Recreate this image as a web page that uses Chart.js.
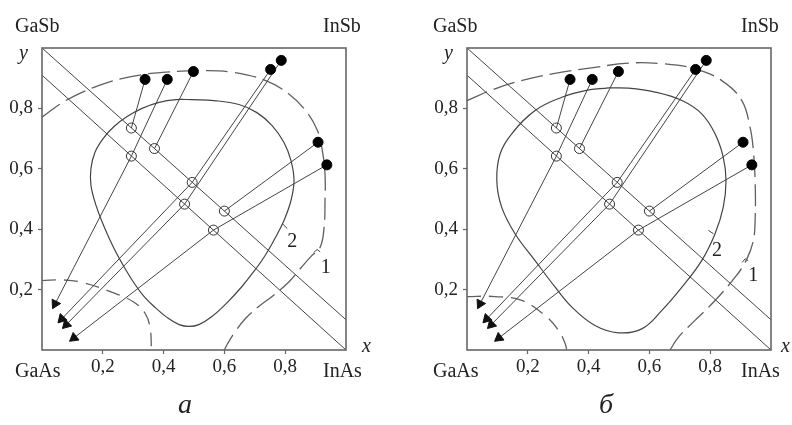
<!DOCTYPE html>
<html>
<head>
<meta charset="utf-8">
<script src="https://cdn.jsdelivr.net/npm/chart.js@4.4.1/dist/chart.umd.min.js"></script>
<style>
  body { margin: 0; background: #fff; }
  #wrap { position: relative; width: 792px; height: 425px; overflow: hidden;
          font-family: 'Liberation Serif', 'Times New Roman', serif; color: #222; }
  .panel { position: absolute; top: 0; width: 396px; height: 425px; }
  .lbl { position: absolute; font-size: 20px; line-height: 20px; white-space: nowrap; }
  .it { font-style: italic; }
  .cap { font-size: 28px; line-height: 28px; font-style: italic; }
</style>
</head>
<body>
<div id="wrap">
  <div class="panel" style="left:0"><canvas id="chartA"></canvas></div>
  <div class="panel" style="left:396px"><canvas id="chartB"></canvas></div>

  <span class="lbl" style="left:15px;top:15px">GaSb</span>
  <span class="lbl" style="left:323px;top:15px">InSb</span>
  <span class="lbl" style="left:15px;top:360px">GaAs</span>
  <span class="lbl" style="left:323px;top:360px">InAs</span>
  <span class="lbl it" style="left:19px;top:42px">y</span>
  <span class="lbl it" style="left:362px;top:335px">x</span>
  <span class="lbl cap" style="left:178px;top:390px">а</span>

  <span class="lbl" style="left:433px;top:15px">GaSb</span>
  <span class="lbl" style="left:741px;top:15px">InSb</span>
  <span class="lbl" style="left:433px;top:360px">GaAs</span>
  <span class="lbl" style="left:741px;top:360px">InAs</span>
  <span class="lbl it" style="left:444px;top:42px">y</span>
  <span class="lbl it" style="left:781px;top:335px">x</span>
  <span class="lbl cap" style="left:599px;top:390px">б</span>
</div>
<script>
// axis ticks
const tickValues = [0.2, 0.4, 0.6, 0.8];
const tickLabels = ['0,2', '0,4', '0,6', '0,8'];

// the two tie lines
const diagUpper = [[0, 1], [1, 0.1]];
const diagLower = [[0, 0.91], [1, 0]];

// trajectories: filled dot -> open circle (-> arrow tip)
const dotPts = [[0.339, 0.896], [0.412, 0.896], [0.498, 0.922], [0.752, 0.929],
                [0.787, 0.959], [0.908, 0.688], [0.937, 0.613]];
const circlePts = [[0.294, 0.735], [0.294, 0.642], [0.370, 0.667], [0.494, 0.555],
                   [0.469, 0.483], [0.600, 0.460], [0.564, 0.397]];
const arrowTips = [[0.043, 0.153], [0.065, 0.103], [0.080, 0.084], [0.105, 0.040]];
const arrowFrom = [1, 3, 4, 6];

// panel a
const curve2A = [[0.493, 0.829], [0.566, 0.826], [0.648, 0.813], [0.707, 0.786], [0.757, 0.743],
  [0.796, 0.687], [0.819, 0.627], [0.829, 0.561], [0.819, 0.495], [0.796, 0.429], [0.766, 0.369],
  [0.734, 0.313], [0.697, 0.260], [0.655, 0.207], [0.609, 0.157], [0.559, 0.111], [0.516, 0.084],
  [0.484, 0.078], [0.451, 0.084], [0.411, 0.108], [0.372, 0.141], [0.336, 0.177], [0.306, 0.217],
  [0.273, 0.270], [0.237, 0.336], [0.204, 0.409], [0.178, 0.478], [0.161, 0.545], [0.161, 0.601],
  [0.174, 0.654], [0.201, 0.700], [0.237, 0.740], [0.280, 0.773], [0.329, 0.800], [0.385, 0.820],
  [0.441, 0.829], [0.493, 0.829]];
const curve1A = [[0, 0.771], [0.078, 0.826], [0.188, 0.876], [0.297, 0.906], [0.407, 0.920],
  [0.516, 0.925], [0.626, 0.920], [0.736, 0.892], [0.812, 0.848], [0.867, 0.793], [0.906, 0.727],
  [0.922, 0.661], [0.931, 0.583], [0.931, 0.495], [0.928, 0.407], [0.915, 0.340], [0.885, 0.310],
  [0.850, 0.270], [0.812, 0.225], [0.760, 0.180], [0.714, 0.145], [0.670, 0.105], [0.635, 0.060],
  [0.610, 0.020], [0.600, 0]];
const curve1LowA = [[0, 0.230], [0.070, 0.232], [0.140, 0.222], [0.220, 0.195], [0.300, 0.160],
  [0.340, 0.120], [0.356, 0.070], [0.360, 0]];
const labelPosA = [[0.933, 0.274], [0.823, 0.357]];
const leadersA = [[[0.893, 0.322], [0.905, 0.333], [0.915, 0.325]], [[0.790, 0.419], [0.807, 0.402]]];

// panel b
const curve2B = [[0.465, 0.868], [0.531, 0.867], [0.619, 0.854], [0.707, 0.826], [0.772, 0.782],
  [0.816, 0.716], [0.843, 0.638], [0.852, 0.561], [0.843, 0.473], [0.816, 0.385], [0.772, 0.296],
  [0.707, 0.208], [0.641, 0.131], [0.575, 0.070], [0.498, 0.057], [0.421, 0.081], [0.345, 0.142],
  [0.290, 0.208], [0.224, 0.296], [0.158, 0.385], [0.114, 0.473], [0.098, 0.561], [0.109, 0.650],
  [0.147, 0.716], [0.224, 0.793], [0.312, 0.837], [0.389, 0.859], [0.465, 0.868]];
const curve1B = [[0, 0.826], [0.092, 0.865], [0.202, 0.898], [0.312, 0.920], [0.421, 0.936],
  [0.531, 0.950], [0.641, 0.948], [0.750, 0.931], [0.838, 0.892], [0.904, 0.826], [0.931, 0.738],
  [0.942, 0.661], [0.948, 0.550], [0.948, 0.440], [0.942, 0.363], [0.920, 0.300], [0.882, 0.241],
  [0.816, 0.164], [0.750, 0.098], [0.695, 0.042], [0.668, 0]];
const curve1LowB = [[0, 0.177], [0.092, 0.177], [0.180, 0.164], [0.257, 0.114], [0.301, 0.065],
  [0.323, 0.021], [0.328, 0]];
const labelPosB = [[0.942, 0.247], [0.822, 0.329]];
const leadersB = [[[0.905, 0.290], [0.915, 0.302], [0.925, 0.296]], [[0.794, 0.396], [0.811, 0.385]]];

const labelNames = ['1', '2'];

const ink = '#444';
const serif = 'Liberation Serif';
const pts = a => a.map(([x, y]) => ({ x, y }));

function lineSet(path, color, width) {
  return { data: pts(path), showLine: true, borderColor: color, borderWidth: width,
           pointRadius: 0, fill: false };
}

// arrowheads point along the last leg of their trajectory
function arrowRotation(ctx) {
  const xs = ctx.chart.scales.x, ys = ctx.chart.scales.y;
  const tip = arrowTips[ctx.dataIndex];
  if (!xs || !tip) return 0;
  const from = circlePts[arrowFrom[ctx.dataIndex]];
  const dx = xs.getPixelForValue(tip[0]) - xs.getPixelForValue(from[0]);
  const dy = ys.getPixelForValue(tip[1]) - ys.getPixelForValue(from[1]);
  return Math.atan2(dx, -dy) * 180 / Math.PI;
}

function buildDatasets(curve2, curve1, curve1Low, leaders) {
  const sets = [];
  sets.push({ data: pts(dotPts), pointRadius: 5, pointBackgroundColor: '#000',
              pointBorderColor: '#000', showLine: false });
  sets.push({ data: pts(arrowTips), pointStyle: 'triangle', pointRadius: 5.5,
              pointRotation: arrowRotation, pointBackgroundColor: '#111',
              pointBorderColor: '#111', showLine: false });
  sets.push({ data: pts(circlePts), pointRadius: 5, pointBackgroundColor: 'rgba(0,0,0,0)',
              pointBorderColor: '#333', pointBorderWidth: 1, showLine: false });
  dotPts.forEach((d, i) => {
    const path = [d, circlePts[i]];
    const k = arrowFrom.indexOf(i);
    if (k >= 0) path.push(arrowTips[k]);
    sets.push(lineSet(path, ink, 1));
  });
  sets.push(lineSet(diagUpper, ink, 1));
  sets.push(lineSet(diagLower, ink, 1));
  sets.push({ ...lineSet(curve2, ink, 1.2), tension: 0.4 });
  sets.push({ ...lineSet(curve1, '#606060', 1.3), tension: 0.4, borderDash: [22, 7] });
  sets.push({ ...lineSet(curve1Low, '#606060', 1.3), tension: 0.4, borderDash: [14, 8] });
  leaders.forEach(l => sets.push(lineSet(l, ink, 1)));
  return sets;
}

// box around the plot + curve numbers
const framePlugin = {
  id: 'frame',
  afterDatasetsDraw(chart, args, opts) {
    const { ctx, chartArea: a, scales } = chart;
    ctx.save();
    ctx.strokeStyle = '#666';
    ctx.lineWidth = 1.6;
    ctx.strokeRect(a.left, a.top, a.right - a.left, a.bottom - a.top);
    ctx.fillStyle = '#222';
    ctx.font = '20px "' + serif + '"';
    ctx.textAlign = 'center';
    ctx.textBaseline = 'middle';
    opts.labels.forEach(([x, y], i) => {
      ctx.fillText(labelNames[i], scales.x.getPixelForValue(x), scales.y.getPixelForValue(y));
    });
    ctx.restore();
  }
};

function axis(extra) {
  return {
    type: 'linear', min: 0, max: 1,
    afterBuildTicks: ax => { ax.ticks = tickValues.map(v => ({ value: v })); },
    ticks: { callback: (v, i) => tickLabels[i], color: '#222', autoSkip: false, maxRotation: 0,
             font: { family: serif, size: 19 } },
    grid: { drawOnChartArea: false, tickLength: 4, tickColor: '#666', tickWidth: 1.2 },
    border: { display: false },
    ...extra
  };
}

function drawPanel(canvasId, yWidth, padRight, curve2, curve1, curve1Low, leaders, labels) {
  const x = axis({ afterFit: ax => { ax.height = 75; } });
  x.ticks.padding = 2;
  const y = axis({ afterFit: ax => { ax.width = yWidth; } });
  y.ticks.padding = 5;
  return new Chart(document.getElementById(canvasId), {
    type: 'scatter',
    data: { datasets: buildDatasets(curve2, curve1, curve1Low, leaders) },
    options: {
      responsive: true,
      maintainAspectRatio: false,
      animation: false,
      layout: { padding: { top: 48, right: padRight, left: 0, bottom: 0 } },
      plugins: { legend: { display: false }, tooltip: { enabled: false }, frame: { labels } },
      scales: { x, y }
    },
    plugins: [framePlugin]
  });
}

drawPanel('chartA', 42, 50, curve2A, curve1A, curve1LowA, leadersA, labelPosA);
drawPanel('chartB', 71, 21, curve2B, curve1B, curve1LowB, leadersB, labelPosB);
</script>
</body>
</html>
